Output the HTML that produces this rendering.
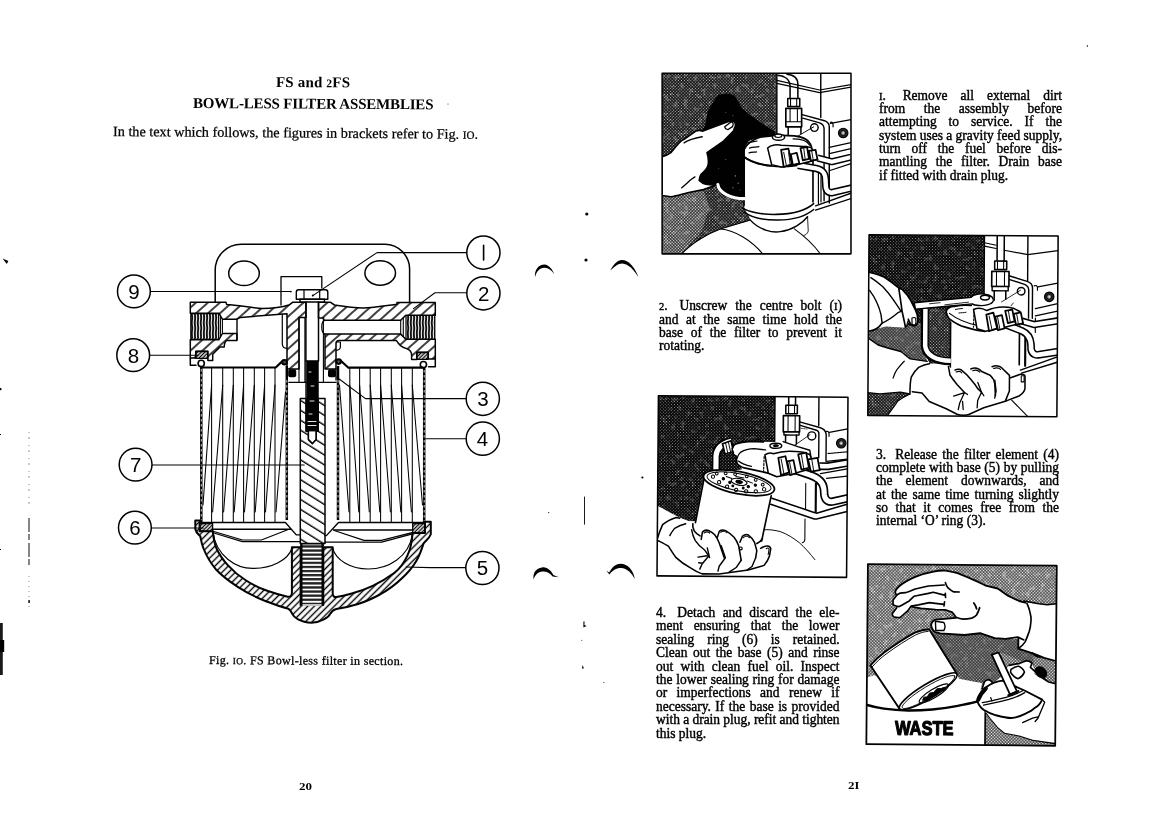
<!DOCTYPE html>
<html><head><meta charset="utf-8"><title>FS and 2FS Bowl-less filter assemblies</title>
<style>
html,body{margin:0;padding:0;background:#fff;}
body{width:1169px;height:826px;position:relative;overflow:hidden;font-family:"Liberation Serif",serif;color:#000;}
.t{position:absolute;white-space:nowrap;line-height:1;}
.p{font-size:14.2px;-webkit-text-stroke:0.42px #000;transform:scaleX(0.95);transform-origin:0 0;}
.os{font-size:0.78em;}
.g{display:inline-block;width:4px;}
svg{position:absolute;overflow:visible;}
#pg{position:absolute;left:0;top:0;width:1169px;height:826px;opacity:0.999;will-change:opacity;}
</style></head><body><div id="pg">
<div class="t" style="left:276px;top:74.74px;font-size:15px;letter-spacing:0.160px;font-weight:bold;transform:rotate(0.25deg);transform-origin:0 100%;">FS and <span class="os">2</span>FS</div>
<div class="t" style="left:193px;top:95.74px;font-size:15px;letter-spacing:-0.188px;font-weight:bold;transform:rotate(0.3deg);transform-origin:0 100%;">BOWL-LESS FILTER ASSEMBLIES</div>
<div class="t" style="left:113px;top:124.41px;font-size:14.2px;letter-spacing:0.010px;-webkit-text-stroke:0.25px #000;transform:rotate(0.45deg);transform-origin:0 100%;">In the text which follows, the figures in brackets refer to Fig. <span class="os">IO</span>.</div>
<div class="t" style="left:209px;top:653.55px;font-size:12px;letter-spacing:0.337px;-webkit-text-stroke:0.3px #000;transform:rotate(0.3deg);transform-origin:0 100%;">Fig. <span class="os">IO</span>. FS Bowl-less filter in section.</div>
<div class="t p" style="left:879px;top:87.51px;word-spacing:10.088px;"><span class="os">I</span>. <i class="g"></i>Remove all external dirt</div>
<div class="t p" style="left:879px;top:100.89px;word-spacing:16.013px;">from the assembly before</div>
<div class="t p" style="left:879px;top:114.27px;word-spacing:9.056px;">attempting to service. If the</div>
<div class="t p" style="left:879px;top:127.65px;letter-spacing:-0.009px;">system uses a gravity feed supply,</div>
<div class="t p" style="left:879px;top:141.03px;word-spacing:7.770px;">turn off the fuel before dis-</div>
<div class="t p" style="left:879px;top:154.41px;word-spacing:5.705px;">mantling the filter. Drain base</div>
<div class="t p" style="left:879px;top:167.79px;">if fitted with drain plug.</div>
<div class="t p" style="left:659px;top:298.21px;word-spacing:4.836px;"><span class="os">2</span>. <i class="g"></i>Unscrew the centre bolt (<span class="os">I</span>)</div>
<div class="t p" style="left:659px;top:311.59px;word-spacing:4.394px;">and at the same time hold the</div>
<div class="t p" style="left:659px;top:324.97px;word-spacing:4.657px;">base of the filter to prevent it</div>
<div class="t p" style="left:659px;top:338.35px;">rotating.</div>
<div class="t p" style="left:876px;top:446.51px;word-spacing:1.958px;">3. <i class="g"></i>Release the filter element (4)</div>
<div class="t p" style="left:876px;top:459.89px;word-spacing:0.304px;">complete with base (5) by pulling</div>
<div class="t p" style="left:876px;top:473.27px;word-spacing:10.101px;">the element downwards, and</div>
<div class="t p" style="left:876px;top:486.65px;word-spacing:1.879px;">at the same time turning slightly</div>
<div class="t p" style="left:876px;top:500.03px;word-spacing:4.394px;">so that it comes free from the</div>
<div class="t p" style="left:876px;top:513.41px;">internal &lsquo;O&rsquo; ring (3).</div>
<div class="t p" style="left:656px;top:605.11px;word-spacing:4.110px;">4. <i class="g"></i>Detach and discard the ele-</div>
<div class="t p" style="left:656px;top:618.49px;word-spacing:7.707px;">ment ensuring that the lower</div>
<div class="t p" style="left:656px;top:631.87px;word-spacing:10.172px;">sealing ring (6) is retained.</div>
<div class="t p" style="left:656px;top:645.25px;word-spacing:2.250px;">Clean out the base (5) and rinse</div>
<div class="t p" style="left:656px;top:658.63px;word-spacing:4.116px;">out with clean fuel oil. Inspect</div>
<div class="t p" style="left:656px;top:672.01px;word-spacing:0.416px;">the lower sealing ring for damage</div>
<div class="t p" style="left:656px;top:685.39px;word-spacing:6.332px;">or imperfections and renew if</div>
<div class="t p" style="left:656px;top:698.77px;word-spacing:1.153px;">necessary. If the base is provided</div>
<div class="t p" style="left:656px;top:712.15px;letter-spacing:-0.031px;">with a drain plug, refit and tighten</div>
<div class="t p" style="left:656px;top:725.53px;">this plug.</div>
<div class="t" style="left:298.5px;top:782.2px;font-size:10.4px;font-weight:bold;transform:scaleX(1.25);transform-origin:0 0;">20</div>
<div class="t" style="left:848px;top:781.4px;font-size:10.4px;font-weight:bold;transform:scaleX(1.25);transform-origin:0 0;">2<span style="font-size:0.96em">I</span></div>
<svg width="1169" height="826" viewBox="0 0 1169 826" style="left:0;top:0" fill="none" stroke="#000" stroke-linecap="round" stroke-linejoin="round">
<defs>
<pattern id="h1" width="8" height="8" patternUnits="userSpaceOnUse" patternTransform="rotate(-42)"><line x1="-1" y1="4" x2="9" y2="4" stroke="#000" stroke-width="1.5"/></pattern>
<pattern id="h2" width="4.7" height="4.7" patternUnits="userSpaceOnUse" patternTransform="rotate(-45)"><line x1="-1" y1="2.3" x2="6" y2="2.3" stroke="#000" stroke-width="1.35"/></pattern>
<pattern id="h3" width="8.4" height="8.4" patternUnits="userSpaceOnUse" patternTransform="rotate(32)"><line x1="-1" y1="4" x2="10" y2="4" stroke="#000" stroke-width="1.35"/></pattern>
<pattern id="h4" width="2.6" height="2.6" patternUnits="userSpaceOnUse" patternTransform="rotate(-45)"><line x1="-1" y1="1.3" x2="4" y2="1.3" stroke="#000" stroke-width="1.1"/></pattern>
<pattern id="thv" width="3" height="26" patternUnits="userSpaceOnUse"><rect width="3" height="26" fill="#111" stroke="none"/><path d="M1.2 0 L1.7 6 L1.2 11 L1.8 16 L1.3 21 L1.6 26" stroke="#e8e8e8" stroke-width="1.15" fill="none"/></pattern>
<pattern id="thh" width="30" height="4.1" patternUnits="userSpaceOnUse"><rect width="30" height="4.1" fill="#fff" stroke="none"/><rect width="30" height="2.3" fill="#222" stroke="none"/></pattern>
</defs>

<!-- mounting bracket -->
<g stroke-width="1.5">
<path d="M215.2 302 V270 A26 26 0 0 1 241.2 244.2 H385 A25 25 0 0 1 409.6 269 V302"/>
<ellipse cx="244" cy="273.3" rx="15.3" ry="12.3"/>
<ellipse cx="380.2" cy="273" rx="15.3" ry="12.3"/>
<path d="M281 305 V276.6 H321.8 V288" stroke-width="1.3"/>
</g>

<!-- head casting hatched sections -->
<g stroke-width="1.5" fill="url(#h1)">
<path d="M190.3 313.2 V302.3 H226 L226.6 304.4 C240 305 252 308.4 262.4 308.4 C274 308.4 284 306.6 289 305 L292.8 302.2 H306 V317.4 H299 V369 H287 V313.7 L240.5 317.4 L237 319.2 H222.4 L218.8 313.2 Z"/>
<path d="M190.3 339.8 H218.8 L222.4 333.5 H236.9 V340.4 H227 Q224.4 341 224.2 347 H220 L212.7 354.3 V360.4 H207.9 V351.3 H195.7 V358 H190.3 Z"/>
<path d="M318.5 302.2 H330.2 L334.5 305 C345 306.6 354 307.9 362.9 307.9 C375 307.9 388 305.4 397 304.3 V302.5 H435.3 V315.2 H405.8 L400.7 320.3 H323.6 V318 H318.5 Z"/>
<path d="M435.3 339.2 H405.8 L400.7 334.1 H325 V369 H336 V343.5 Q336.2 340.8 339 340.6 H396.3 C399 343.6 399.5 346 403 347.2 C408 349 410.5 350 411.6 353.7 V359.5 H416.7 V352.3 H428.3 V359 H435.3 Z"/>
</g>
<!-- lips below seals -->
<path d="M190.3 358 V365.2 H196 M435.3 359 V366.8 H428.5" stroke-width="1.5"/>
<!-- head seals (8) -->
<rect x="195.9" y="351.5" width="11.8" height="6.8" fill="url(#h4)" stroke-width="1.3"/>
<rect x="416.9" y="352.5" width="11.2" height="6.8" fill="url(#h4)" stroke-width="1.3"/>
<!-- inner ribs -->
<path d="M282.3 314 V344 Q282.6 348.3 286.6 348.3" stroke-width="1.2"/>
<path d="M336.2 342 H340.4 V347 Q340 350.3 336.2 350.3" stroke-width="1.2"/>
<!-- threaded ports -->
<rect x="190.8" y="313.6" width="27.8" height="25.8" fill="url(#thv)" stroke-width="1.2"/>
<rect x="406" y="315.5" width="28.8" height="23.5" fill="url(#thv)" stroke-width="1.2"/>
<path d="M222.4 319.2 V333.5 M220.4 316.5 V336.5" stroke-width="1.1"/>
<path d="M237 319.2 V340" stroke-width="1.4"/>
<path d="M400.7 320.3 V334.1 M403.3 317.8 V336.6" stroke-width="1.1"/>
<!-- passage round end -->
<path d="M325 320.3 Q321.6 321 321.8 327 Q321.8 333.4 325 334.1" stroke-width="1.3"/>

<!-- bolt head, washer, shank -->
<g stroke-width="1.4" fill="#fff">
<path d="M298.6 289.8 H325.4 Q327.8 289.8 327.8 292.4 V299.3 H296.3 V292.4 Q296.3 289.8 298.6 289.8 Z"/>
<path d="M304 290.3 V299 M319.7 290.3 V299" stroke-width="1.2"/>
<rect x="300" y="299.3" width="24.4" height="2.7"/>
</g>
<path d="M305.9 302 V361 M318.5 302 V361" stroke-width="1.5"/>
<path d="M299 317.4 V382.3 M304.9 317.4 V382.3 M323.4 318 V382.3" stroke-width="1.1"/>
<!-- bolt thread (black) -->
<path d="M306.2 360.8 H318.2 V431.3 H306.2 Z" fill="#000" stroke-width="1"/>
<path d="M309 372 h2 M311 386 h3 M310 401 h4 M309 414 h3 M308 421.5 h8 M308 425.5 h8" stroke="#fff" stroke-width="0.9"/>
<path d="M308.4 431.5 V439.6 L312.4 443.6 L316.2 439.6 V431.5" stroke-width="1.2" fill="#fff"/>
<!-- boss bottom and o-rings (3) -->
<path d="M288.9 382.3 H336.1 M287 369 V382.3 M336 369 V380" stroke-width="1.3"/>
<rect x="288.2" y="369.3" width="8" height="8" rx="2" fill="#000" stroke="none"/>
<rect x="328" y="369.3" width="8" height="8" rx="2" fill="#000" stroke="none"/>

<!-- centre stud (7) -->
<path d="M300.3 398.6 H306.2 V431.3 H308.4 V439.6 L312.4 443.6 L316.2 439.6 V431.3 H318.2 V398.6 H325 V543.6 H300.3 Z" fill="url(#h3)" stroke-width="1.5"/>

<!-- filter element: can walls, centre tube, end plates -->
<g stroke-width="2.5" stroke-linecap="butt">
<path d="M201.3 367 V522"/><path d="M424.2 368 V522"/>
<path d="M286.8 366 V520"/><path d="M338 366 V520"/>
</g>
<g stroke="#fff" stroke-width="0.75" stroke-dasharray="2.6 2.4" stroke-linecap="butt">
<path d="M201.3 369 V521 M424.2 370 V521 M286.8 380 V519 M338 380 V519"/>
</g>
<circle cx="201.2" cy="363.4" r="3.1" stroke-width="1.6" fill="#fff"/>
<circle cx="423.4" cy="364.6" r="3.1" stroke-width="1.6" fill="#fff"/>
<path d="M201 367.5 H275.7 L283 360.6" stroke-width="2.2"/>
<circle cx="284.6" cy="362.3" r="2.3" stroke-width="2" fill="#555"/>
<path d="M423 367.7 H348.4 L340 360" stroke-width="2.2"/>
<circle cx="338.6" cy="361.6" r="2.3" stroke-width="2" fill="#555"/>
<!-- pleats -->
<g stroke-width="1.05">
<path d="M211.6 368 V522 M222.7 368 V522 M233.3 368 V522 M243.6 368 V522 M254.3 368 V522 M264.6 368 V522 M275 368 V522"/>
<path d="M211.6 385 L203 505 M222.7 385 L212.6 512 M233.3 385 L223.6 512 M243.6 385 L234.2 512 M254.3 385 L244.5 512 M264.6 385 L255.2 512 M275 385 L265.5 512 M285.5 392 L276 512"/>
<path d="M349.8 368 V522 M359.6 368 V522 M370.2 368 V522 M380.6 368 V522 M391.3 368 V522 M401.6 368 V522 M412.3 368 V522"/>
<path d="M339.5 385 L349 512 M349.8 385 L358.8 512 M359.6 385 L369.3 512 M370.2 385 L379.8 512 M380.6 385 L390.4 512 M391.3 385 L400.8 512 M401.6 385 L411.4 512 M412.3 385 L422.5 505"/>
</g>
<!-- bottom end plate + spring dish -->
<g stroke-width="1.4">
<path d="M201 522.5 H285.4 L296.3 534.9 H300.3 M212.7 529.2 H290.4"/>
<path d="M423 522.5 H338.5 L326.4 535.6 H325 M412.6 530 H333.6"/>
<path d="M213 531.2 L242.5 540 H261.4 L287.6 529.8 M213 532.8 L242.3 541.6 H300.3" stroke-width="1.2"/>
<path d="M412 532.7 L381.4 540.4 H364 L334.2 530.5 M411.6 534.2 L381.6 542.2 H325" stroke-width="1.2"/>
<path d="M213 532 C216 556 236 568.4 252.7 568.4 C272 568.4 288 560 292 548.2" stroke-width="1.2"/>
<path d="M412.4 534.5 C409 557 388 569 368.3 569 C350 569 336 560 332.7 548.4" stroke-width="1.2"/>
</g>

<!-- base bowl (5) -->
<path fill="url(#h2)" stroke-width="2" d="M195.3 520.5 H201 V523 H199.6 V531.3 H212.7 C214 542 216.3 548 216.3 548 C219 554 223 560 228 565.4 C233 571 239 576 245.4 580 C252 584.5 259 588 267.2 590.8 C274 593.2 281 595.3 287.6 596.7 Q291.9 597 291.9 593 V547.2 H300.6 V605 H323.3 V547.2 H332.7 V593 Q332.7 597.4 336.3 597.1 C341 596.4 346 595.2 350.9 593.8 C358 591.8 366 589 372.7 585.8 C381 582 388 577.5 394.5 572.7 C400 568.5 404.5 562 407.6 555.2 C410.5 549 412 541 412.6 533 H425 V523.3 H424 V521.8 H430.8 V534.2 C429.5 538 426 540.5 423.5 543.6 C421.5 550 419.5 555.5 416.3 561 C412.5 567.5 407.5 573.3 401.7 578.5 C395.5 584.5 388 590 380 594.5 C373 598.2 366 601.6 358.1 604 C351 606.2 343.5 608 336.3 609 C333 609.8 331.8 611 330.5 613.4 C329 616.5 326.5 618.3 323.8 619.4 C320 621.5 316 622.7 311.5 622.7 C306.5 622.7 301.5 621.3 297.7 619.2 C295 617.6 293.3 616 292.3 613.8 C291 611 289.8 609.2 287.6 608.4 C280.5 606.8 274 604.3 267.2 601.7 C257 597.8 247 593 238.1 587.2 C229.5 581.5 222 576 216.3 569.8 C210.5 563 206 555 203.3 548 C201.5 543.5 201 539.5 200.3 536.3 C198 534 195.8 532.5 195.3 529 Z"/>
<!-- base sealing rings (6) -->
<rect x="199.8" y="523.5" width="12.8" height="7.8" fill="url(#h4)" stroke-width="1.3"/>
<rect x="412.7" y="523.6" width="12.2" height="9.2" fill="url(#h4)" stroke-width="1.3"/>
<!-- drain thread -->
<rect x="301" y="543.8" width="22" height="61" fill="url(#thh)" stroke-width="1.3"/>
<path d="M301.4 544 V604 M322.6 544 V604" stroke-width="2.2"/>
<path d="M303 605 H321" stroke="#fff" stroke-width="1.5"/>

<!-- callout leaders -->
<g stroke-width="1.1">
<path d="M466.7 252.6 H377 L312.8 295.6"/>
<path d="M466.7 292.8 H435 L413.5 308.6"/>
<path d="M466.2 398.6 H365.5 L336.8 377.2"/>
<path d="M466.2 438.7 H425.6"/>
<path d="M465.8 567.6 H430 L406.2 567"/>
<path d="M150.2 291.5 H290.8"/>
<path d="M149.6 355.2 H198"/>
<path d="M152 465 H304.2"/>
<path d="M151.3 528 H203"/>
</g>
<circle cx="312.8" cy="295.6" r="1" fill="#000" stroke="none"/>
<circle cx="290.8" cy="291.6" r="0.9" fill="#000" stroke="none"/>
<!-- callout balloons -->
<g stroke-width="1.5" fill="#fff">
<circle cx="483.4" cy="252.6" r="16.6"/><circle cx="483.4" cy="293.3" r="16.6"/>
<circle cx="482.8" cy="398.8" r="16.6"/><circle cx="482.8" cy="438.7" r="16.6"/>
<circle cx="482.4" cy="568" r="16.6"/>
<circle cx="133.9" cy="291.4" r="16.4"/><circle cx="133.2" cy="355.2" r="16.4"/>
<circle cx="135.6" cy="464.6" r="16.4"/><circle cx="134.9" cy="527.7" r="16.4"/>
</g>
<g font-family="Liberation Sans, sans-serif" font-size="20.5" fill="#000" stroke="none" text-anchor="middle">
<path d="M483.6 245.4 V260" stroke="#000" stroke-width="1.6" fill="none"/>
<text x="483.6" y="300.6">2</text>
<text x="483" y="406.2">3</text>
<text x="482.4" y="446">4</text>
<text x="482.4" y="575.4">5</text>
<text x="134" y="298.8">9</text>
<text x="133.4" y="362.6">8</text>
<text x="135.8" y="472">7</text>
<text x="135" y="535">6</text>
</g>
</svg>
<svg width="0" height="0" style="left:0;top:0"><defs>
<pattern id="ht" width="2.2" height="2.2" patternUnits="userSpaceOnUse" patternTransform="scale(4.234) rotate(45)"><rect width="2.2" height="2.2" fill="#000"/><rect x="0.5" y="0.5" width="1.2" height="1.2" fill="#c4c4c4"/></pattern>
<pattern id="htl" width="2.2" height="2.2" patternUnits="userSpaceOnUse" patternTransform="scale(4.234) rotate(45)"><rect width="2.2" height="2.2" fill="#000"/><rect x="0.3" y="0.3" width="1.58" height="1.58" fill="#fff"/></pattern>
<pattern id="htm" width="2.2" height="2.2" patternUnits="userSpaceOnUse" patternTransform="scale(4.234) rotate(45)"><rect x="0.3" y="0.3" width="1.5" height="1.5" fill="#fff"/></pattern>
<pattern id="htd" width="2.2" height="2.2" patternUnits="userSpaceOnUse" patternTransform="scale(4.234) rotate(45)"><rect width="2.2" height="2.2" fill="#000"/><rect x="0.6" y="0.6" width="0.95" height="0.95" fill="#9a9a9a"/></pattern>
<filter id="blot" x="0" y="0" width="100%" height="100%" color-interpolation-filters="sRGB"><feTurbulence type="fractalNoise" baseFrequency="0.05" numOctaves="3" seed="11"/><feColorMatrix type="matrix" values="0 0 0 0 1  0 0 0 0 1  0 0 0 0 1  0 0 0 7 -3.9"/></filter>
</defs></svg>
<!-- illustration 1 : viewBox = zoom coords of target region (655,65)-(860,260) -->
<svg width="205" height="195" viewBox="0 0 868 826" style="left:655px;top:65px" fill="none" stroke="#000" stroke-width="7" stroke-linejoin="round" stroke-linecap="round">
<clipPath id="c1"><rect x="30" y="35" width="800" height="765"/></clipPath>
<g clip-path="url(#c1)">
<rect x="30" y="35" width="800" height="765" fill="#fff" stroke="none"/>
<!-- halftone background -->
<path d="M30 35 H516 V300 H400 V660 L277 695 C230 715 160 750 113 800 H30 Z" fill="url(#ht)" stroke="none"/>
<path d="M30 553 L140 541 L205 528 L230 600 L200 700 L113 800 H30 Z" fill="url(#htm)" stroke="none" opacity="0.55"/>
<rect class="gr" x="30" y="35" width="490" height="765" fill="#fff" stroke="none" filter="url(#blot)" opacity="0.22"/>
<!-- drum below -->
<path d="M400 658 L277 695 C230 712 160 750 113 800" stroke-width="4.5"/>
<path d="M277 695 C340 700 410 745 456 800 M590 694 C640 730 675 765 700 800" stroke-width="4.5"/>
<!-- machine panel -->
<path d="M516 35 V300" stroke-width="6"/>
<path d="M516 65 L697 106 L830 83 M516 78 L697 117 L830 94" stroke-width="5"/>
<path d="M702 38 V222" stroke-width="6"/>
<path d="M623 210 L718 236 Q738 244 738 262 V585 M626 225 L697 245 Q716 252 716 270 V575" stroke-width="6"/>
<path d="M743 247 L830 231 M738 349 L830 329 M738 375 L830 354" stroke-width="5.5"/>
<path d="M743 243 Q752 240 754 250 V262" stroke-width="5"/>
<circle cx="797" cy="288" r="20" fill="#222" stroke-width="5"/><circle cx="797" cy="288" r="10" fill="#999" stroke-width="3"/><circle cx="797" cy="288" r="3.5" fill="#eee" stroke="none"/>
<circle cx="675" cy="265" r="16" fill="#fff" stroke-width="6"/>
<path d="M672 262 L585 313" stroke-width="4"/>
<!-- vertical pipe + unions -->
<path d="M521 44 C550 46 572 62 572 92 V142 M559 39 C590 42 605 55 605 82 V142" stroke-width="6.5"/>
<path d="M562 142 H613 V176 H562 Z" fill="#fff" stroke-width="6.5"/>
<path d="M554 184 H621 V262 H554 Z" fill="#fff" stroke-width="7"/>
<path d="M574 144 V175 M600 144 V175 M572 186 V240 M603 186 V240 M556 240 H620" stroke-width="4.5"/>
<path d="M564 262 V298 M618 262 V290" stroke-width="6.5"/>
<!-- base plate, pipes right of body -->
<path d="M692 454 V587 M703 454 V580" stroke-width="5"/>
<path d="M680 597 L830 543 M680 615 L830 566" stroke-width="5.5"/>
<path d="M738 448 L830 418" stroke-width="5"/>
<!-- filter body -->
<path d="M377 395 V600 C395 650 440 700 513 707 C580 705 630 670 669 600 V400 Z" fill="#fff" stroke="none"/><path d="M377 395 V596 M669 400 V580" stroke-width="7"/>
<path d="M370 605 C420 640 600 650 672 587 M377 623 C440 668 600 672 672 612" stroke-width="6.5"/>
<path d="M400 653 C440 700 500 712 530 706 C580 700 625 670 646 643" stroke-width="6"/>
<path d="M646 643 L649 704 C645 715 638 720 631 722" stroke-width="3.5"/>
<!-- head -->
<path d="M372 385 C372 350 400 318 450 305 C490 298 540 296 590 300 C630 304 655 320 662 345 L669 400 C640 425 560 435 492 428 C440 420 395 405 372 385 Z" fill="#fff" stroke-width="7"/>
<path d="M372 385 C400 410 450 424 492 426" stroke-width="8"/>
<path d="M395 330 C410 322 420 326 432 322 M400 352 C415 346 428 350 440 346 M398 372 C410 368 420 370 430 368" stroke-width="5"/>
<ellipse cx="523" cy="306" rx="26" ry="13" fill="#fff" stroke-width="6.5"/><ellipse cx="522" cy="300" rx="15" ry="7" fill="#fff" stroke-width="5"/>
<path d="M585 313 C620 312 645 322 655 340" stroke-width="5"/>
<!-- outlet pipes -->
<path d="M688 394 L749 410 L830 390" stroke="#000" stroke-width="30" stroke-linecap="butt"/>
<path d="M688 394 L749 410 L834 389" stroke="#fff" stroke-width="18" stroke-linecap="butt"/>
<path d="M605 425 L682 438 C715 444 722 462 722 490 L724 520 C728 540 742 542 752 540 L834 521" stroke="#000" stroke-width="32" stroke-linecap="butt"/>
<path d="M603 425 L682 438 C715 444 722 462 722 490 L724 520 C728 540 742 542 752 540 L836 520.5" stroke="#fff" stroke-width="19" stroke-linecap="butt"/>
<!-- banjo + unions -->
<path d="M477 352 C490 338 520 336 534 340 C560 340 600 345 640 345 L662 350 L688 400 L610 420 L534 432 L494 422 Z" fill="#fff" stroke-width="6.5"/>
<path d="M534 360 L565 354 L580 420 L545 432 Z M575 378 L600 372 L611 416 L584 424 Z" fill="#fff" stroke-width="7.5"/>
<path d="M545 370 L556 425 M566 372 L572 418" stroke-width="4"/>
<path d="M616 352 L644 348 L652 398 L626 404 Z M652 364 L680 360 L688 400 L660 406 Z" fill="#fff" stroke-width="7.5"/>
<path d="M630 354 L636 400 M664 366 L670 402" stroke-width="4"/>
<!-- cloth (black) -->
<path d="M266 130 C290 120 320 122 338 133 L369 187 L436 238 L508 285 L507 296 L440 305 L395 320 L379 345 V566 L287 551 L261 505 L215 505 L187 489 L195 453 L222 420 L220 371 L287 325 L333 279 L336 262 L320 245 L250 262 L200 284 L215 253 L225 197 Z" fill="#000" stroke="#000" stroke-width="4"/>
<path d="M266 506 C270 540 320 566 379 566" stroke="#fff" stroke-width="13"/>
<g fill="#bbb" stroke="none"><circle cx="300" cy="200" r="2"/><circle cx="330" cy="215" r="2"/><circle cx="250" cy="330" r="2"/><circle cx="300" cy="400" r="2"/><circle cx="340" cy="470" r="2.5"/><circle cx="352" cy="500" r="2.5"/><circle cx="330" cy="520" r="2.5"/><circle cx="360" cy="530" r="2"/><circle cx="270" cy="440" r="2"/></g>
<!-- hand -->
<path d="M30 388 C50 384 60 376 67 371 C80 356 92 340 102 330 C110 322 116 318 123 315 L174 279 C185 276 195 277 200 280 L308 240 C322 236 334 238 338 244 C342 252 340 262 336 268 L333 279 L287 325 L220 371 C226 390 228 405 225 422 C222 440 208 452 195 463 C190 470 188 480 187 489 C196 498 206 503 215 505 L256 510 L205 528 L138 541 C110 548 90 555 67 558 L30 553 Z" fill="#fff" stroke-width="7"/>
<path d="M123 330 C135 322 145 318 154 315 C170 310 185 306 200 304 M113 520 C128 508 142 494 154 484 L169 474 M295 262 L322 241 C330 240 334 250 328 261 L308 274 C300 272 296 268 295 262 Z" stroke-width="5.5"/>
</g>
<rect x="30" y="35" width="800" height="765" stroke-width="6.5"/>
</svg>
<!-- illustration 2 : viewBox = zoom coords of target region (862,228)-(1067,423) -->
<svg width="205" height="195" viewBox="0 0 868 826" style="left:862px;top:228px" fill="none" stroke="#000" stroke-width="7" stroke-linejoin="round" stroke-linecap="round">
<clipPath id="c2"><rect x="27" y="31" width="801" height="766"/></clipPath>
<g transform="rotate(0.4 428 414)">
<g clip-path="url(#c2)">
<rect x="27" y="31" width="801" height="766" fill="#fff" stroke="none"/>
<!-- halftone background -->
<path d="M27 31 H516 V300 L375 345 V575 H287 L256 505 V402 L180 424 L28 440 Z" fill="url(#htd)" stroke="none"/>
<path d="M282 345 H375 V552 C330 552 290 540 282 500 Z" fill="url(#ht)" stroke="none"/>
<path d="M85 405 L154 359 L169 354 L184 424 Z" fill="url(#ht)" stroke="none"/>
<path d="M27 440 L100 420 L180 424 L256 402 V505 L277 566 L205 556 L164 525 L67 497 L27 469 Z" fill="url(#htl)" stroke="none"/>
<path d="M27 440 L100 420 L180 424 L256 402 V505 L277 566 L205 556 L164 525 L67 497 L27 469 Z" fill="#000" stroke="none" opacity="0.35"/>
<path d="M27 700 L77 705 L164 697 L205 705 L154 735 L110 797 H27 Z" fill="url(#ht)" stroke="none"/>
<rect class="gr" x="27" y="31" width="492" height="766" fill="#fff" stroke="none" filter="url(#blot)" opacity="0.16"/>
<!-- machine right -->
<path d="M516 31 V298" stroke-width="6"/>
<path d="M600 93 L700 111 L828 93 M516 62 L566 72 M516 76 L566 86" stroke-width="5"/>
<path d="M700 34 V222" stroke-width="6"/>
<path d="M621 201 L698 224 Q721 232 721 252 V380 M621 216 L690 238 Q705 246 705 262 V380" stroke-width="6"/>
<path d="M744 247 L828 231 M734 339 L828 318 M734 370 L828 349" stroke-width="5.5"/>
<path d="M728 243 Q740 238 742 250 V262" stroke-width="5"/>
<circle cx="792" cy="289" r="20" fill="#222" stroke-width="5"/><circle cx="792" cy="289" r="10" fill="#999" stroke-width="3"/><circle cx="792" cy="289" r="3.5" fill="#eee" stroke="none"/>
<circle cx="673" cy="266" r="16" fill="#fff" stroke-width="6"/>
<path d="M670 262 L590 312 M640 316 L620 342" stroke-width="3.5"/>
<!-- vertical pipe + unions -->
<path d="M570 34 V140 M600 34 V140" stroke-width="6.5"/>
<path d="M560 139 H611 V175 H560 Z" fill="#fff" stroke-width="6.5"/>
<path d="M548 183 H621 V247 H548 Z" fill="#fff" stroke-width="7"/>
<path d="M572 141 V174 M598 141 V174 M568 185 V246 M602 185 V246" stroke-width="4.5"/>
<path d="M550 247 H618 V265 H550 Z" fill="#fff" stroke-width="6"/>
<path d="M559 265 V305 M608 265 V300" stroke-width="6.5"/>
<!-- right-of-body pipes / plate -->
<path d="M692 440 V582" stroke-width="9"/><path d="M734 380 V440" stroke-width="5"/>
<path d="M672 600 L828 543 M677 613 L828 566" stroke-width="6"/>
<path d="M636 728 L705 797" stroke-width="4.5"/>
<!-- filter body -->
<path d="M375 400 V592 C420 625 560 625 621 607 C650 598 665 585 667 577 V400 Z" fill="#fff" stroke="none"/>
<path d="M375 400 V594 M667 410 V578" stroke-width="7"/>
<!-- head -->
<path d="M357 350 C365 336 380 330 390 333 C420 326 470 322 520 326 L640 330 L668 352 L668 410 C600 440 470 440 441 421 C410 410 380 400 370 385 Z" fill="#fff" stroke="none"/>
<path d="M357 350 C365 338 378 332 390 333 C410 328 440 325 462 328 M357 350 C354 366 362 378 370 385 C395 405 420 415 441 421 C470 430 500 436 523 437" stroke-width="7"/>
<path d="M370 362 C400 385 440 402 487 412" stroke-width="5"/>
<path d="M395 345 C405 342 415 343 425 341 M410 360 C420 358 430 360 440 357" stroke-width="4"/>
<path d="M474 352 L472 420" stroke-width="5" stroke-dasharray="9 7"/>
<!-- outlet pipes -->
<path d="M677 392 L728 407 L832 390" stroke="#000" stroke-width="31" stroke-linecap="butt"/>
<path d="M675 392 L728 407 L836 389.5" stroke="#fff" stroke-width="18" stroke-linecap="butt"/>
<path d="M600 405 L677 434 C705 446 714 465 716 490 L717 512 C722 535 740 538 752 534 L832 521" stroke="#000" stroke-width="33" stroke-linecap="butt"/>
<path d="M598 404 L677 434 C705 446 714 465 716 490 L717 512 C722 535 740 538 752 534 L836 520.5" stroke="#fff" stroke-width="20" stroke-linecap="butt"/>
<!-- banjo + unions -->
<path d="M472 345 C490 336 510 338 528 349 C570 330 610 332 640 338 L668 352 L680 400 L600 420 L523 437 L487 426 Z" fill="#fff" stroke-width="6.5"/>
<path d="M526 366 L556 358 L572 424 L538 436 Z M564 374 L592 368 L604 424 L576 432 Z" fill="#fff" stroke-width="7.5"/>
<path d="M538 372 L550 428 M574 378 L584 428" stroke-width="4"/>
<path d="M606 350 L636 344 L646 394 L618 402 Z M642 362 L672 356 L682 402 L652 408 Z" fill="#fff" stroke-width="7.5"/>
<path d="M620 352 L628 398 M655 364 L662 404" stroke-width="4"/>
<!-- left pipe -->
<path d="M266 345 V500 C270 540 310 565 375 565" stroke="#000" stroke-width="34" stroke-linecap="butt"/>
<path d="M268 343 V500 C272 538 312 563 377 563" stroke="#fff" stroke-width="19" stroke-linecap="butt"/>
<!-- spanner -->
<path d="M220 318 L462 293 C470 280 500 276 520 280 C548 284 558 296 555 308 C550 322 520 330 495 328 C480 327 470 324 466 321 L226 345 Z" fill="#fff" stroke-width="6"/>
<ellipse cx="520" cy="294" rx="19" ry="10" stroke-width="6.5"/>
<path d="M285 322 L330 317 M350 326 L450 314" stroke-width="3.5"/>
<!-- top-left hand -->
<path d="M27 190 C50 194 75 202 92 210 C115 225 135 240 154 256 L169 262 C185 278 198 295 205 308 L226 349 C232 360 236 375 236 392 C236 408 228 416 218 416 C205 414 200 400 195 385 L184 424 L100 420 L27 440 Z" fill="#fff" stroke="none"/>
<path d="M27 190 C50 194 75 202 92 210 C115 225 135 240 154 256 L169 262 C185 278 198 295 205 308 L226 349 C232 360 236 375 236 392 C236 408 228 416 218 416 C206 414 200 400 196 388 M27 440 C50 438 68 432 85 405 M154 256 C160 290 165 325 169 354 C175 380 180 400 184 424" stroke-width="7"/>
<path d="M36 213 C55 225 72 238 87 251 C105 270 120 288 133 308 C145 325 156 340 164 354 M31 267 C45 285 55 302 62 318 C70 335 76 352 80 369 L85 405 M85 405 C110 395 130 380 154 359 L169 354" stroke-width="6"/>
<path d="M211 384 C216 380 224 379 227 384 C229 394 229 404 226 410 C220 413 214 412 212 408 Z" fill="#fff" stroke-width="5"/>
<!-- sleeve -->
<path d="M27 469 L67 497 L164 525 L205 556 L287 576 L241 592 L210 633 L205 700 L164 697 L77 705 L27 700 Z" fill="#fff" stroke="none"/>
<path d="M27 469 L67 497 C100 510 135 516 164 525 C180 535 192 548 205 556 L277 566 M27 700 L77 705 L164 697 L205 705" stroke-width="6"/>
<path d="M133 638 C138 622 142 612 149 602 C160 588 170 575 180 566 M269 664 C274 648 280 636 287 628 C298 614 310 604 323 597" stroke-width="5"/>
<!-- bottom hand -->
<path d="M205 700 C205 670 206 650 210 633 C220 612 232 600 241 592 C255 584 270 578 287 576 L367 587 L395 602 C410 598 420 600 426 605 L462 597 C480 592 495 596 503 602 L552 587 C570 582 585 584 590 589 L626 623 L631 633 L672 618 C685 616 692 620 692 628 V679 C690 692 680 702 667 710 L616 730 L518 761 L457 789 L405 789 L359 766 L287 736 L256 700 L215 695 Z" fill="#fff" stroke="none"/>
<path d="M205 700 C205 670 206 650 210 633 C220 612 232 600 241 592 C255 584 270 578 287 576 M215 695 L256 700 L287 736 L359 766 L405 789 C420 795 445 794 457 789 L518 761 L616 730 L667 710 C680 702 690 692 692 679 V628 C692 620 685 616 672 618 L631 633" stroke-width="6.5"/>
<path d="M367 587 L374 623 C385 640 395 652 405 664 L436 697 M395 602 C405 596 420 598 426 605 C440 615 452 628 462 640 C475 655 485 668 492 680 L508 695 M462 597 C478 590 496 594 508 607 L544 623 C556 634 562 646 564 659 L567 710 M552 587 C568 580 584 583 590 589 L626 623 V689 L610 730" stroke-width="6.5"/>
<path d="M390 712 L436 697 L449 705 M436 697 L416 741 L410 769 M428 735 L431 769 M492 654 L508 695 L518 710 M508 695 L492 730 L490 761 M564 643 L570 689 L564 720" stroke-width="5.5"/>
<path d="M400 610 C410 606 420 608 424 614 M470 604 C482 600 494 603 500 610 M558 594 C570 590 582 592 588 598 M676 624 H688 V650 H676 Z" stroke-width="4.5"/>
<path d="M110 797 C130 770 145 750 154 735 C175 720 190 712 205 705" stroke-width="5"/>
</g>
<rect x="27" y="31" width="801" height="766" stroke-width="6.5"/>
</g>
</svg>
<!-- illustration 3 : viewBox = zoom coords of target region (652,388)-(857,583) -->
<svg width="205" height="195" viewBox="0 0 868 826" style="left:652px;top:388px" fill="none" stroke="#000" stroke-width="7" stroke-linejoin="round" stroke-linecap="round">
<clipPath id="c3"><rect x="24" y="36" width="803" height="763"/></clipPath>
<g transform="rotate(0.45 426 418)">
<g clip-path="url(#c3)">
<rect x="24" y="36" width="803" height="763" fill="#fff" stroke="none"/>
<path d="M24 36 H518 V228 L415 226 L354 237 L339 257 L354 300 L380 345 L220 372 L185 566 L154 566 L118 551 L77 530 L24 502 Z" fill="url(#htd)" stroke="none"/>
<rect class="gr" x="24" y="36" width="496" height="560" fill="#fff" stroke="none" filter="url(#blot)" opacity="0.16"/>
<!-- machine right -->
<path d="M518 36 V226" stroke-width="6"/>
<path d="M704 39 V157" stroke-width="6"/>
<path d="M623 142 L708 165 Q734 172 736 195 V308 M626 157 L698 178 Q706 182 705 195 V293" stroke-width="6"/>
<path d="M749 185 L827 170 M739 308 L827 298" stroke-width="5.5"/>
<path d="M744 275 L827 267" stroke-width="5" stroke-dasharray="3 4"/>
<path d="M734 182 Q746 178 748 190 V202" stroke-width="5"/>
<circle cx="800" cy="231" r="20" fill="#222" stroke-width="5"/><circle cx="800" cy="231" r="10" fill="#999" stroke-width="3"/><circle cx="800" cy="231" r="3.5" fill="#eee" stroke="none"/>
<circle cx="675" cy="201" r="17" fill="#fff" stroke-width="6"/>
<path d="M667 196 L580 257" stroke-width="3.5"/>
<path d="M620 168 L655 172" stroke-width="3" stroke-dasharray="5 5"/>
<!-- vertical pipe + unions -->
<path d="M576 38 V72 M605 38 V72" stroke-width="6.5"/>
<path d="M564 72 H613 V108 H564 Z" fill="#fff" stroke-width="6.5"/>
<path d="M554 116 H623 V185 H554 Z" fill="#fff" stroke-width="7"/>
<path d="M576 74 V107 M601 74 V107 M574 118 V184 M604 118 V184" stroke-width="4.5"/>
<path d="M557 185 H621 V198 H557 Z" fill="#fff" stroke-width="6"/>
<path d="M564 198 V236 M610 198 V236" stroke-width="6.5"/>
<!-- tank + lines -->
<path d="M508 466 L687 525 Q693 528 698 528 L827 489 M503 492 L682 551 Q690 554 698 553 L827 520" stroke-width="6.5"/>
<path d="M651 402 V512 M649 553 V640 Q648 652 638 654" stroke-width="4.5"/>
<path d="M694 402 V524" stroke-width="9"/>
<path d="M713 360 L827 339 M739 380 L827 370" stroke-width="5.5"/>
<path d="M477 600 C500 598 520 602 544 607 C575 618 600 634 626 654 C650 675 672 700 692 725" stroke-width="4"/>
<!-- left pipe w/ union -->
<path d="M270 345 V290 C272 255 295 235 335 226" stroke="#000" stroke-width="36" stroke-linecap="butt"/>
<path d="M270 348 V290 C272 255 295 235 335 226" stroke="#fff" stroke-width="22" stroke-linecap="butt"/>
<path d="M297 237 L333 224 L344 271 L308 281 Z" fill="#fff" stroke-width="7"/>
<path d="M310 234 L320 278 M322 230 L332 274" stroke-width="4"/>
<path d="M297 345 V300 L308 281 L344 271 L354 300 L380 345 Z" fill="url(#htd)" stroke="none"/>
<!-- head -->
<path d="M339 257 C342 245 348 240 354 237 C375 230 395 228 416 226 L492 229 L554 226 L616 247 L667 262 L672 278 L690 335 L605 360 L528 375 L492 360 L390 339 C372 332 362 325 359 318 L354 288 Z" fill="#fff" stroke="none"/>
<path d="M339 257 C342 245 348 240 354 237 C375 230 395 228 416 226 L470 228 M354 288 L359 318 C362 326 372 333 390 339 L492 360 L518 370" stroke-width="7.5"/>
<path d="M359 298 C362 285 368 278 375 272 C392 262 412 258 431 257 L480 262 M365 310 C380 322 400 328 420 332" stroke-width="5.5"/>
<path d="M339 257 C336 270 340 282 354 288" stroke-width="6"/>
<ellipse cx="523" cy="244" rx="25" ry="11" fill="#fff" stroke-width="6"/><ellipse cx="523" cy="244" rx="11" ry="5" fill="#000" stroke-width="3"/>
<path d="M430 226 C440 216 455 216 465 224" stroke-width="5"/>
<path d="M554 226 L616 247 L667 262 L672 290" stroke-width="6"/>
<path d="M474 290 L472 350" stroke-width="5" stroke-dasharray="8 7"/>
<!-- outlet pipes -->
<path d="M708 329 L744 329 L832 313" stroke="#000" stroke-width="34" stroke-linecap="butt"/>
<path d="M706 329 L744 329 L836 312.5" stroke="#fff" stroke-width="20" stroke-linecap="butt"/>
<path d="M605 346 L667 366 C705 378 725 395 728 425 L730 450 C734 476 752 482 768 478 L832 463" stroke="#000" stroke-width="36" stroke-linecap="butt"/>
<path d="M603 345.5 L667 366 C705 378 725 395 728 425 L730 450 C734 476 752 482 768 478 L836 462" stroke="#fff" stroke-width="22" stroke-linecap="butt"/>
<!-- banjo + unions -->
<path d="M477 283 C490 274 505 274 513 278 C560 262 600 266 640 270 L667 280 L690 335 L605 360 L528 375 L492 360 Z" fill="#fff" stroke-width="6.5"/>
<path d="M534 295 L564 288 L580 356 L546 368 Z M572 310 L598 304 L610 360 L584 368 Z" fill="#fff" stroke-width="7.5"/>
<path d="M546 300 L558 362 M582 314 L592 362" stroke-width="4"/>
<path d="M618 280 L652 272 L664 336 L632 344 Z M660 300 L700 294 L710 346 L672 352 Z" fill="#fff" stroke-width="7.5"/>
<path d="M632 282 L642 340 M676 302 L684 348" stroke-width="4"/>
<!-- element canister -->
<path d="M220 383 L180 600 C200 650 380 690 464 648 L505 456 Z" fill="#fff" stroke="none"/>
<path d="M220 386 L185 572 M505 456 L466 648" stroke-width="7"/>
<g transform="rotate(10.8 368 402)">
<ellipse cx="368" cy="402" rx="153" ry="47" fill="#fff" stroke-width="7.5"/>
<ellipse cx="368" cy="400" rx="138" ry="36" stroke-width="4"/>
<g stroke-width="4.2">
<circle cx="255" cy="398" r="7"/><circle cx="285" cy="416" r="7"/><circle cx="322" cy="428" r="7"/><circle cx="362" cy="434" r="7"/><circle cx="405" cy="432" r="7"/><circle cx="445" cy="424" r="7"/><circle cx="478" cy="408" r="7"/>
<circle cx="268" cy="382" r="6"/><circle cx="305" cy="374" r="6"/><circle cx="345" cy="369" r="6"/><circle cx="395" cy="369" r="6"/><circle cx="435" cy="376" r="6"/><circle cx="468" cy="390" r="6"/>
<circle cx="300" cy="398" r="5" fill="#000"/><circle cx="330" cy="408" r="5" fill="#000"/><circle cx="410" cy="410" r="5" fill="#000"/><circle cx="438" cy="398" r="5" fill="#000"/><circle cx="345" cy="420" r="4" fill="#000"/><circle cx="390" cy="420" r="4" fill="#000"/>
<ellipse cx="368" cy="398" rx="34" ry="14" stroke-width="5"/><ellipse cx="368" cy="398" rx="14" ry="6" fill="#000"/>
<path d="M310 386 L335 390 M400 388 L425 392 M350 378 L385 378"/>
</g>
</g>
<!-- hand -->
<path d="M24 643 L46 582 L103 551 L118 554 L154 566 L174 577 L180 607 L210 643 L215 612 L241 605 L267 623 L277 638 L287 607 L313 605 L349 633 L374 654 L385 628 L410 623 L436 654 L446 689 L462 679 L487 669 L505 679 L500 710 L477 751 L410 771 L333 782 L287 789 L215 789 L169 766 L103 720 L72 674 L24 648 Z" fill="#fff" stroke="none"/>
<!-- element bottom rim -->
<path d="M174 577 C172 590 176 600 180 607 C186 616 195 622 205 628 M446 659 C456 654 464 648 469 638" stroke-width="7"/>
<path d="M169 602 C172 620 178 636 185 648 C196 664 210 678 226 689 L241 710" stroke-width="6"/>
<path d="M24 643 C30 620 38 600 46 582 C62 568 82 558 103 551 L118 554 M24 648 C40 656 58 664 72 674 C82 690 92 706 103 720 C122 738 146 754 169 766 C184 776 200 784 215 789 L287 789 L333 782 L410 771 L477 751 C488 738 496 724 500 710 L505 679 C502 670 494 668 487 669 C478 670 470 674 462 679" stroke-width="6.5"/>
<path d="M210 643 L215 612 C222 604 232 602 241 605 C252 610 260 616 267 623 C276 634 282 646 287 659 L308 720 M277 638 L287 607 C294 602 304 602 313 605 C326 612 338 622 349 633 C358 644 364 656 369 669 L380 730 M374 654 L385 628 C392 622 402 620 410 623 C420 630 430 642 436 654 L446 689 L441 720" stroke-width="6.5"/>
<path d="M77 628 C82 616 90 606 97 597 C112 588 128 581 144 577 M236 679 L246 720 M197 718 L236 712 M241 715 L215 746 L205 769 M200 742 L218 744 M295 669 L313 720 L287 756 L282 777 M380 730 L359 761 L328 782 M441 720 L426 756 L405 771" stroke-width="6"/>
<path d="M222 616 C230 610 240 610 246 616 M292 612 C300 606 312 608 318 614 M388 634 C396 628 408 628 414 634 M486 680 C490 676 496 676 498 682 L494 705" stroke-width="4.5"/>
<circle cx="378" cy="680" r="6" stroke-width="5"/>
</g>
<rect x="24" y="36" width="803" height="763" stroke-width="6.5"/>
</g>
</svg>
<!-- illustration 4 : viewBox = zoom coords of target region (860,558)-(1065,753) -->
<svg width="205" height="195" viewBox="0 0 868 826" style="left:860px;top:558px" fill="none" stroke="#000" stroke-width="8" stroke-linejoin="round" stroke-linecap="round">
<clipPath id="c4"><rect x="30" y="29" width="800" height="763"/></clipPath>
<g transform="rotate(0.5 430 410)">
<g clip-path="url(#c4)">
<rect x="30" y="29" width="800" height="763" fill="url(#htl)" stroke="none"/>
<rect class="gr" x="30" y="29" width="800" height="763" fill="#fff" stroke="none" filter="url(#blot)" opacity="0.3"/>
<!-- darker halftone below hand -->
<path d="M300 312 L530 322 L670 340 L670 382 L728 400 L830 440 V530 L740 520 L700 440 L600 400 L560 408 L620 540 L540 530 L518 530 L420 512 L354 402 L292 308 Z" fill="#000" stroke="none" opacity="0.3"/>
<!-- bin interior + front (white) -->
<path d="M30 510 L62 500 L200 560 L410 489 L420 512 L518 530 L500 608 L533 647 V800 H30 Z" fill="#fff" stroke="none"/>
<path d="M28 625 C60 634 80 638 103 641 C140 646 170 648 205 648 C240 648 275 646 308 643 C345 640 380 634 410 628 C440 622 468 616 500 607" stroke-width="10"/>
<path d="M533 647 V800" stroke-width="8"/>
<text opacity="0.999" x="151" y="751" font-family="Liberation Sans, sans-serif" font-weight="bold" font-size="84" fill="#000" stroke="#000" stroke-width="5" textLength="248" lengthAdjust="spacingAndGlyphs">WASTE</text>
<!-- canister -->
<path d="M44 458 C60 440 80 420 103 402 C150 368 195 338 231 318 C255 308 275 304 292 303 L354 402 L410 489 C360 500 300 530 250 565 C215 590 190 612 169 641 Z" fill="#fff" stroke-width="8"/>
<path d="M52 464 C70 444 88 426 110 410 C155 376 198 348 234 328 C255 318 272 313 288 312" stroke-width="4"/>
<g transform="rotate(-31.7 290 566)">
<ellipse cx="290" cy="566" rx="142" ry="31" fill="#fff" stroke-width="7"/>
<ellipse cx="290" cy="569" rx="130" ry="24" stroke-width="3.5"/>
<ellipse cx="306" cy="586" rx="72" ry="18" stroke-width="5"/>
<path d="M250 586 L262 578 L275 584 L292 576 L310 582 L328 576 L346 584 L360 588 L345 596 L325 592 L308 598 L290 594 L270 598 Z" fill="#000" stroke-width="4"/>
</g>
<!-- top hand -->
<path d="M149 138 C160 124 168 118 174 113 C195 100 212 90 231 82 C255 72 282 64 308 59 C325 55 342 53 359 54 C378 56 395 60 410 64 L462 85 C485 95 508 106 530 116 L580 128 C596 138 610 150 626 159 L672 180 L698 187 L749 190 L790 195 L834 190 V440 L728 400 L670 382 V340 L616 341 L570 338 L523 323 L508 318 L441 326 L339 320 L318 315 C308 310 302 298 300 287 C300 278 305 268 318 262 L405 254 L390 231 L359 220 L318 220 L256 215 L215 208 L200 226 L169 254 C155 256 143 254 141 251 C135 246 134 240 136 236 L154 213 C146 210 140 206 138 200 V180 L154 159 C146 154 146 146 149 138 Z" fill="#fff" stroke="none"/>
<path d="M149 138 C160 124 168 118 174 113 C195 100 212 90 231 82 C255 72 282 64 308 59 C325 55 342 53 359 54 C378 56 395 60 410 64 L462 85 C485 95 508 106 530 116 L580 128 C596 138 610 150 626 159 L672 180 L698 187" stroke-width="8"/>
<path d="M693 180 L749 190 L790 195 L834 190" stroke-width="7"/>
<path d="M705 190 C712 205 716 215 718 226 C722 240 724 250 723 262 C722 280 720 295 716 308 C710 325 705 340 698 354 C690 366 682 374 672 380" stroke-width="7"/>
<path d="M670 340 V382 L728 400 L764 424" stroke-width="8"/>
<path d="M149 138 C146 146 146 154 154 159 C164 150 176 149 190 149 C205 145 218 139 231 133 L287 120 L354 115 M359 105 C362 114 365 120 369 126 C378 134 386 140 395 144 L418 144" stroke-width="7"/>
<path d="M154 159 L138 180 V200 C146 206 155 208 164 208 C180 200 192 192 205 185 L226 164 L287 151 L308 146 L359 159 M359 150 L360 168" stroke-width="7"/>
<path d="M154 213 L136 236 C134 242 136 248 141 251 C150 255 160 255 169 254 L200 226 L215 205 L246 200 L292 190 L308 192 L354 197 M356 186 L354 204" stroke-width="7"/>
<path d="M215 208 L256 215 L318 220 L359 220 L390 231 L405 251 C418 256 428 258 436 259 C450 258 462 256 472 254 C482 250 488 246 492 241 C498 230 502 220 505 210 M480 190 C486 198 490 206 492 215" stroke-width="7.5"/>
<path d="M405 254 L318 262 C305 268 300 278 300 287 C302 298 308 310 318 315 L339 320 L441 326 L508 318 L523 323 L570 338 L616 341 L667 333 L692 344" stroke-width="8"/>
<path d="M318 269 L354 274 C358 280 359 286 359 292 C358 300 356 304 354 308 L320 308 Z" fill="#fff" stroke-width="6"/>
<!-- right hand with base -->
<path d="M533 647 C515 632 505 615 500 605 C505 590 512 575 519 552 L528 523 L547 515 L564 529 L600 500 L632 453 L677 444 L705 433 L728 444 L740 470 L834 440 V786 L615 743 L587 721 L536 659 Z" fill="#fff" stroke="none"/>
<path d="M733 416 L834 433 V530 L790 520 L740 490 Z" fill="url(#htl)" stroke="none"/>
<ellipse cx="767" cy="481" rx="27" ry="20" transform="rotate(40 767 481)" fill="#000" stroke-width="4"/>
<path d="M727 399 L780 420 L834 434" stroke-width="7"/>
<path d="M632 453 L677 444 L705 433 C718 434 726 440 728 444 L722 461 M722 461 C745 480 770 505 800 522 L834 530" stroke-width="7"/>
<path d="M640 470 C650 462 662 456 672 456 C684 462 694 472 697 481 C692 494 682 504 671 509 C658 506 646 494 638 482 Z" fill="#fff" stroke-width="6.5" />
<path d="M519 552 L528 523 C534 516 542 514 547 515 C555 518 560 524 564 529" stroke-width="7"/>
<!-- base dome -->
<path d="M499 606 C505 585 520 562 536 546 C560 528 585 520 604 518 L700 560 L773 597 C765 615 755 625 745 630 C730 645 715 652 699 659 C680 668 662 674 643 676 C620 676 598 670 575 664 C555 658 538 650 525 642 C512 632 503 620 499 606 Z" fill="#fff" stroke-width="8"/>
<path d="M525 622 C560 616 598 606 632 597 C656 590 680 580 699 568 M520 612 C555 606 592 596 626 587 C650 580 672 570 690 560" stroke-width="5.5"/>
<path d="M502 600 C508 582 520 566 534 552" stroke-width="17"/>
<path d="M555 590 L560 604" stroke-width="5"/>
<!-- stud -->
<path d="M558 408 L587 399 L666 563 L637 577 Z" fill="#fff" stroke-width="7.5"/>
<path d="M630 580 L672 562" stroke-width="9"/>
<!-- lower hand edge + wrinkles -->
<path d="M536 659 L552 680 L587 721 L615 743 L677 754 L733 771 L826 783" stroke-width="8"/>
<path d="M536 659 L552 680 L587 721 L615 743 L677 754 L733 771 L834 786 V800 H536 Z" fill="url(#htl)" stroke="none"/>
<path d="M773 597 L784 608 L756 676 L744 690 M691 695 L733 676 L756 670" stroke-width="5.5"/>
</g>
<rect x="30" y="29" width="800" height="763" stroke-width="7.5"/>
</g>
</svg>
<!-- scan artefacts: staple shadows, specks, edge marks -->
<svg width="1169" height="826" viewBox="0 0 1169 826" style="left:0;top:0" fill="#000" stroke="none">
<path d="M535 277.4 C534.2 270 538.5 264.6 544.4 264.6 C549 264.8 552.4 269.6 554.4 274.2 C551.4 270.4 548.4 268 544.6 267.8 C539.8 267.6 536.4 271.6 535 277.4 Z"/>
<path d="M610.4 270.4 C613.4 264.4 617.4 260.2 622 260 C628.4 260 635.4 267.4 638.4 277.2 C634.4 270 628.4 263.8 622.2 263.4 C617.8 263.4 614.2 266.8 610.4 270.4 Z"/>
<path d="M533.6 579.4 C532.6 572.6 536 568.4 542 567.4 C547.4 566.6 551 570.8 553.4 575 L558.8 577.2 L552.6 576.4 C549.8 573.4 546.8 571.4 542.6 571.6 C537.6 572 535 575.4 533.6 579.4 Z"/>
<path d="M606.2 570.4 L609.2 572.6 C612 567.4 615.4 564 620.4 563.8 C628 563.8 633.6 570.6 634.8 579 C632 573.4 627.4 568.4 620.8 568 C616 568 612.4 570.6 609.4 574.4 Z"/>
<circle cx="586.8" cy="214" r="1.6"/><circle cx="586" cy="260" r="1.6"/>
<circle cx="642.4" cy="477.5" r="1.1"/><circle cx="548.7" cy="512.6" r="0.6"/>
<rect x="584" y="496.6" width="0.9" height="28" />
<path d="M583.4 621.4 L584.6 621.4 L584.4 625 L586.6 626 L583.4 627.4 Z"/>
<circle cx="581.8" cy="640.3" r="0.5"/><path d="M582.8 665 L583.8 668.6 L581.8 668.6 Z"/>
<circle cx="603.8" cy="682.4" r="0.5"/>
<path d="M2.6 258.4 L8.4 261 L6.8 264 Z"/>
<rect x="0" y="388" width="1.4" height="2.2"/><rect x="0" y="434" width="1" height="1"/><rect x="0" y="549" width="1" height="1"/>
<rect x="0" y="623" width="2.8" height="52" opacity="0.9"/><rect x="0" y="640" width="4.2" height="12"/>
<path d="M29 432 V508" stroke="#777" stroke-width="0.8" stroke-dasharray="1 4 2 6" fill="none"/>
<path d="M29 518 V568" stroke="#222" stroke-width="1.1" stroke-dasharray="14 2 6 3" fill="none"/>
<path d="M29 576 V608" stroke="#777" stroke-width="0.8" stroke-dasharray="1 4" fill="none"/>
<rect x="28.4" y="600" width="1.4" height="3"/>
<circle cx="1087.4" cy="46" r="0.7"/><circle cx="448" cy="104" r="0.5"/><circle cx="253" cy="131" r="0.5"/>
</svg>
</div></body></html>
